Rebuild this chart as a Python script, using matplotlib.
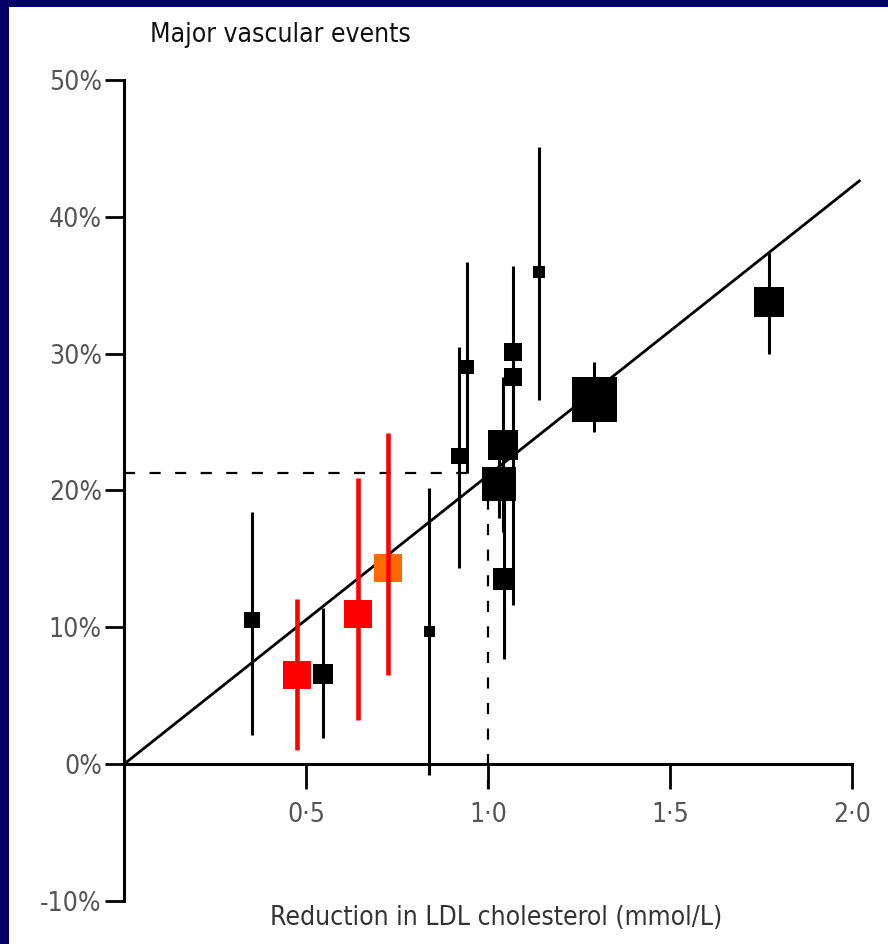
import matplotlib
matplotlib.use("Agg")
import matplotlib.pyplot as plt
from matplotlib.patches import Rectangle
import numpy as np

# ---- data ----
ldl_reduction = [0.351, 0.476, 0.546, 0.642, 0.724, 0.839, 0.920, 0.941, 1.030,
                 1.040, 1.045, 1.070, 1.070, 1.141, 1.292, 1.772]
risk_reduction = [10.5, 6.5, 6.6, 11.0, 14.3, 9.7, 22.5, 29.0, 20.5,
                  23.3, 13.5, 30.1, 28.3, 36.0, 26.7, 33.8]
ci_low = [2.1, 1.0, 1.9, 3.2, 6.5, -0.8, 14.3, 21.3, 18.0,
          17.0, 7.7, 23.8, 11.6, 26.6, 24.3, 30.0]
ci_high = [18.4, 12.1, 11.4, 20.9, 24.2, 20.2, 30.5, 36.7, 23.0,
           28.3, 19.5, 36.4, 30.0, 45.1, 29.4, 37.4]
box_px = [16, 28, 20, 28, 28, 11, 16, 14, 34,
          30, 22, 18, 18, 12, 45, 30]
groups = ["other", "red", "other", "red", "orange", "other", "other", "other", "other",
          "other", "other", "other", "other", "other", "other", "other"]

reg_slope = 21.1          # % per mmol/L
reg_x_end = 2.02
ref_ldl = 1.0
ref_risk = 21.3
ref_x_stop = 0.955

x_ticks = [0.5, 1.0, 1.5, 2.0]
x_ticklabels = ["0·5", "1·0", "1·5", "2·0"]
y_ticks = [-10, 0, 10, 20, 30, 40, 50]
y_ticklabels = ["-10%", "0%", "10%", "20%", "30%", "40%", "50%"]

title = "Major vascular events"
xlabel = "Reduction in LDL cholesterol (mmol/L)"

colors = {"other": "#000000", "red": "#FF0000", "orange": "#FF6A00"}
bar_lw = {"other": 2.2, "red": 3.3, "orange": 3.3}
bar_color = {"other": "#000000", "red": "#FF0000", "orange": "#FF0000"}

# ---- figure ----
W, H, DPI = 888, 944, 100
fig = plt.figure(figsize=(W / DPI, H / DPI), dpi=DPI)
fig.patch.set_facecolor("#000066")
fig.add_artist(Rectangle((9 / W, 0), 1 - 9 / W, 1 - 7 / H, transform=fig.transFigure,
                         facecolor="white", edgecolor="none", zorder=-10))

font = ["DejaVu Sans"]
stretch = "condensed"

ax = fig.add_axes([124 / W, 1 - 901 / H, (852 - 124) / W, (901 - 80) / H])
ax.set_facecolor("none")
ax.set_xlim(0, 2.0)
ax.set_ylim(-10, 50)

for s in ["top", "right"]:
    ax.spines[s].set_visible(False)
ax.spines["bottom"].set_position(("data", 0))
ax.spines["left"].set_linewidth(2.2)
ax.spines["bottom"].set_linewidth(2.2)

ax.set_xticks(x_ticks)
ax.set_xticklabels(x_ticklabels, family=font, stretch=stretch, fontsize=19, color="#555555")
ax.set_yticks(y_ticks)
ax.set_yticklabels(y_ticklabels, family=font, stretch=stretch, fontsize=19, color="#555555")
ax.tick_params(axis="x", direction="out", length=18, width=2, pad=9)
ax.tick_params(axis="y", direction="out", length=14, width=2, pad=2)

# regression line
xr = np.array([0, reg_x_end])
ax.plot(xr, reg_slope * xr, color="black", lw=2.0, zorder=2, clip_on=False)

# reference dashed lines
ax.plot([0, ref_x_stop], [ref_risk, ref_risk], color="black", lw=1.6,
        dashes=(5, 6.5), zorder=1)
ax.plot([ref_ldl, ref_ldl], [ref_risk, -1.8], color="black", lw=1.6,
        dashes=(5, 6.5), zorder=1, clip_on=False)

# squares and CIs
for x, y, lo, hi, b, g in zip(ldl_reduction, risk_reduction, ci_low, ci_high, box_px, groups):
    side_pt = b * 72 / DPI
    ax.scatter([x], [y], marker="s", s=side_pt ** 2, color=colors[g],
               linewidths=0, zorder=3, clip_on=False)
    ax.vlines(x, lo, hi, color=bar_color[g], lw=bar_lw[g], zorder=4, clip_on=False)

fig.text(150 / W, 1 - 35 / H, title, family=font, stretch=stretch, fontsize=19,
         color="#111111", ha="left", va="center")
fig.text(496 / W, 1 - 918 / H, xlabel, family=font, stretch=stretch, fontsize=19,
         color="#333333", ha="center", va="center")

fig.savefig("out.png", dpi=DPI, facecolor=fig.get_facecolor())
